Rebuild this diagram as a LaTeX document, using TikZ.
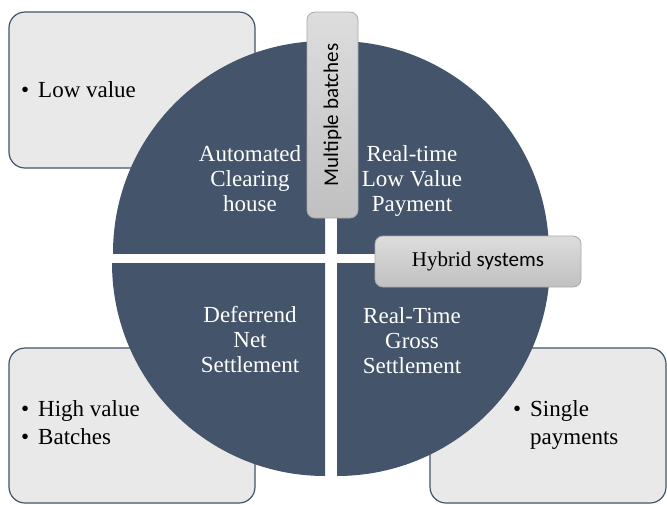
\documentclass[tikz,border=0pt]{standalone}
\usepackage{fontspec}
\setmainfont{Liberation Serif}
\newfontfamily\calibrifont{Carlito}
\definecolor{slate}{HTML}{44546A}
\definecolor{boxgray}{HTML}{E9E9E9}
\definecolor{calllight}{HTML}{DDDDDD}
\definecolor{calldark}{HTML}{C0C0C0}
\definecolor{calledge}{HTML}{A9A9A9}
\newcommand{\mybul}{\makebox[17pt][l]{•}}
\begin{document}
\begin{tikzpicture}[x=1pt,y=-1pt,
  quad/.style={fill=slate},
  infobox/.style={draw=slate, line width=1.2pt, fill=boxgray, rounded corners=16pt},
  callout/.style={draw=calledge, line width=0.8pt, rounded corners=8pt,
    top color=calllight, bottom color=calldark, inner sep=0pt,
    minimum width=206pt, minimum height=51pt},
  qlabel/.style={text=white, font=\fontsize{23}{25}\selectfont, align=center, inner sep=0pt, anchor=north},
  blabel/.style={font=\fontsize{23}{27.5}\selectfont, align=left, inner sep=0pt, anchor=north west},
]
\useasboundingbox (0,0) rectangle (667,504);
% info boxes
\draw[infobox] (9,12) rectangle (255,168);
\draw[infobox] (9,348) rectangle (255,503);
\draw[infobox] (430,348) rectangle (666,503);
% quadrants
\begin{scope}
  \clip (100,30) rectangle (325,253);
  \fill[quad] (325,253) circle[radius=212];
\end{scope}
\begin{scope}
  \clip (337,30) rectangle (560,253);
  \fill[quad] (337,253) circle[radius=212];
\end{scope}
\begin{scope}
  \clip (100,263) rectangle (325,490);
  \fill[quad] (325,263) circle[radius=213];
\end{scope}
\begin{scope}
  \clip (337,263) rectangle (560,490);
  \fill[quad] (337,263) circle[radius=213];
\end{scope}
% quadrant labels
\node[qlabel] (ach) at (250,145.5) {Automated\\Clearing\\house};
\node[qlabel] (rtlv) at (412,145.5) {Real-time\\Low Value\\Payment};
\node[qlabel] (dns) at (250,306.5) {Deferrend\\Net\\Settlement};
\node[qlabel] (rtgs) at (412,307.5) {Real-Time\\Gross\\Settlement};
% bullet texts
\node[blabel] (lowv) at (21,81.5) {\mybul Low value};
\node[blabel] (highv) at (21,400.5) {\mybul High value\\\mybul Batches};
\node[blabel] (single) at (513,400.5) {\mybul Single\\\hspace*{17pt}payments};
% callouts
\node[callout, rotate=90, font=\calibrifont\fontsize{21}{24}\selectfont] (mb) at (332.5,115) {Multiple batches};
\node[callout, font=\fontsize{21}{24}\selectfont] (hy) at (478,261.5) {Hybrid {\calibrifont systems}};
\end{tikzpicture}
\end{document}
